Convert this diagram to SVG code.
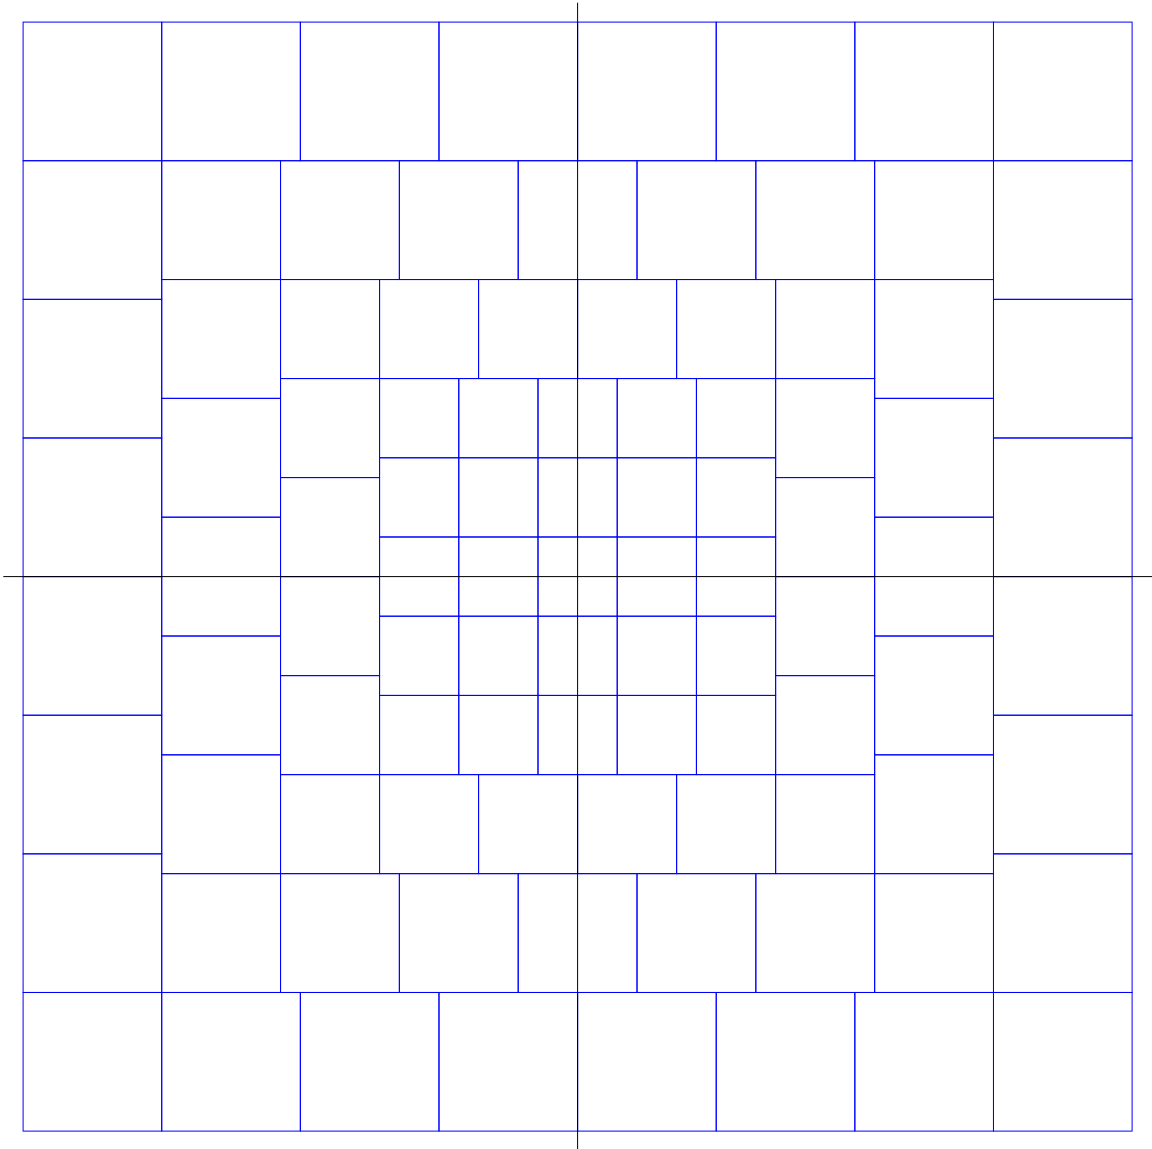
<svg xmlns="http://www.w3.org/2000/svg" xmlns:xlink="http://www.w3.org/1999/xlink" width="1152" height="1149" viewBox="0 0 1152 1149">
<style>
.c{fill:none;stroke:#0000ff;stroke-width:1}
.ax{stroke:#000;stroke-width:1}
</style>
<defs>
<rect id="a" class="c" width="138.625" height="138.625"/>
<rect id="b" class="c" width="118.821" height="118.821"/>
<rect id="k" class="c" width="99.018" height="99.018"/>
<rect id="d" class="c" width="79.214" height="79.214"/>
</defs>
<rect width="1152" height="1149" fill="#fff"/>
<g id="ring1">
<use xlink:href="#a" x="23.1" y="22.1"/><use xlink:href="#a" x="161.725" y="22.1"/><use xlink:href="#a" x="300.35" y="22.1"/><use xlink:href="#a" x="438.975" y="22.1"/><use xlink:href="#a" x="577.6" y="22.1"/><use xlink:href="#a" x="716.225" y="22.1"/><use xlink:href="#a" x="854.85" y="22.1"/><use xlink:href="#a" x="993.475" y="22.1"/>
<use xlink:href="#a" x="23.1" y="992.475"/><use xlink:href="#a" x="161.725" y="992.475"/><use xlink:href="#a" x="300.35" y="992.475"/><use xlink:href="#a" x="438.975" y="992.475"/><use xlink:href="#a" x="577.6" y="992.475"/><use xlink:href="#a" x="716.225" y="992.475"/><use xlink:href="#a" x="854.85" y="992.475"/><use xlink:href="#a" x="993.475" y="992.475"/>
<use xlink:href="#a" x="23.1" y="160.725"/><use xlink:href="#a" x="23.1" y="299.35"/><use xlink:href="#a" x="23.1" y="437.975"/><use xlink:href="#a" x="23.1" y="576.6"/><use xlink:href="#a" x="23.1" y="715.225"/><use xlink:href="#a" x="23.1" y="853.85"/>
<use xlink:href="#a" x="993.475" y="160.725"/><use xlink:href="#a" x="993.475" y="299.35"/><use xlink:href="#a" x="993.475" y="437.975"/><use xlink:href="#a" x="993.475" y="576.6"/><use xlink:href="#a" x="993.475" y="715.225"/><use xlink:href="#a" x="993.475" y="853.85"/>
</g>
<g id="ring2">
<use xlink:href="#b" x="161.725" y="160.725"/><use xlink:href="#b" x="280.546" y="160.725"/><use xlink:href="#b" x="399.367" y="160.725"/><use xlink:href="#b" x="518.189" y="160.725"/><use xlink:href="#b" x="637.01" y="160.725"/><use xlink:href="#b" x="755.832" y="160.725"/><use xlink:href="#b" x="874.654" y="160.725"/>
<use xlink:href="#b" x="161.725" y="873.654"/><use xlink:href="#b" x="280.546" y="873.654"/><use xlink:href="#b" x="399.367" y="873.654"/><use xlink:href="#b" x="518.189" y="873.654"/><use xlink:href="#b" x="637.01" y="873.654"/><use xlink:href="#b" x="755.832" y="873.654"/><use xlink:href="#b" x="874.654" y="873.654"/>
<use xlink:href="#b" x="161.725" y="279.546"/><use xlink:href="#b" x="161.725" y="398.367"/><use xlink:href="#b" x="161.725" y="517.189"/><use xlink:href="#b" x="161.725" y="636.01"/><use xlink:href="#b" x="161.725" y="754.832"/>
<use xlink:href="#b" x="874.654" y="279.546"/><use xlink:href="#b" x="874.654" y="398.367"/><use xlink:href="#b" x="874.654" y="517.189"/><use xlink:href="#b" x="874.654" y="636.01"/><use xlink:href="#b" x="874.654" y="754.832"/>
</g>
<g id="ring3">
<use xlink:href="#k" x="280.546" y="279.546"/><use xlink:href="#k" x="379.564" y="279.546"/><use xlink:href="#k" x="478.582" y="279.546"/><use xlink:href="#k" x="577.6" y="279.546"/><use xlink:href="#k" x="676.618" y="279.546"/><use xlink:href="#k" x="775.636" y="279.546"/>
<use xlink:href="#k" x="280.546" y="774.636"/><use xlink:href="#k" x="379.564" y="774.636"/><use xlink:href="#k" x="478.582" y="774.636"/><use xlink:href="#k" x="577.6" y="774.636"/><use xlink:href="#k" x="676.618" y="774.636"/><use xlink:href="#k" x="775.636" y="774.636"/>
<use xlink:href="#k" x="280.546" y="378.564"/><use xlink:href="#k" x="280.546" y="477.582"/><use xlink:href="#k" x="280.546" y="576.6"/><use xlink:href="#k" x="280.546" y="675.618"/>
<use xlink:href="#k" x="775.636" y="378.564"/><use xlink:href="#k" x="775.636" y="477.582"/><use xlink:href="#k" x="775.636" y="576.6"/><use xlink:href="#k" x="775.636" y="675.618"/>
</g>
<g id="ring4">
<use xlink:href="#d" x="379.564" y="378.564"/><use xlink:href="#d" x="458.778" y="378.564"/><use xlink:href="#d" x="537.993" y="378.564"/><use xlink:href="#d" x="617.207" y="378.564"/><use xlink:href="#d" x="696.422" y="378.564"/>
<use xlink:href="#d" x="379.564" y="457.778"/><use xlink:href="#d" x="458.778" y="457.778"/><use xlink:href="#d" x="537.993" y="457.778"/><use xlink:href="#d" x="617.207" y="457.778"/><use xlink:href="#d" x="696.422" y="457.778"/>
<use xlink:href="#d" x="379.564" y="536.993"/><use xlink:href="#d" x="458.778" y="536.993"/><use xlink:href="#d" x="537.993" y="536.993"/><use xlink:href="#d" x="617.207" y="536.993"/><use xlink:href="#d" x="696.422" y="536.993"/>
<use xlink:href="#d" x="379.564" y="616.207"/><use xlink:href="#d" x="458.778" y="616.207"/><use xlink:href="#d" x="537.993" y="616.207"/><use xlink:href="#d" x="617.207" y="616.207"/><use xlink:href="#d" x="696.422" y="616.207"/>
<use xlink:href="#d" x="379.564" y="695.422"/><use xlink:href="#d" x="458.778" y="695.422"/><use xlink:href="#d" x="537.993" y="695.422"/><use xlink:href="#d" x="617.207" y="695.422"/><use xlink:href="#d" x="696.422" y="695.422"/>
</g>
<g id="axes">
<line class="ax" x1="3.3" y1="576.6" x2="1152" y2="576.6"/>
<line class="ax" x1="577.6" y1="2.7" x2="577.6" y2="1149"/>
</g>
</svg>
